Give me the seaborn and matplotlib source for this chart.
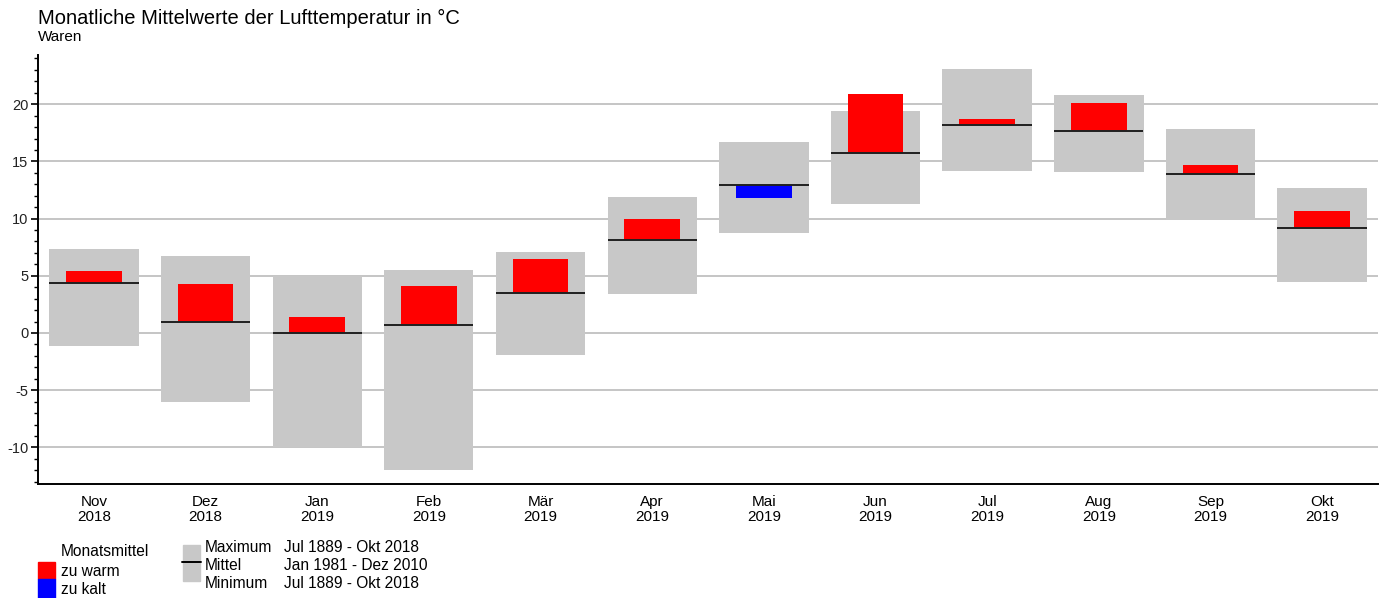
import numpy as np
import pandas as pd
import matplotlib
matplotlib.use("Agg")
import matplotlib.pyplot as plt
from matplotlib.patches import Rectangle
from matplotlib.lines import Line2D
from matplotlib.ticker import MultipleLocator
import seaborn as sns

# Monthly air temperature, station Waren
months = ["Nov\n2018", "Dez\n2018", "Jan\n2019", "Feb\n2019", "Mär\n2019", "Apr\n2019",
          "Mai\n2019", "Jun\n2019", "Jul\n2019", "Aug\n2019", "Sep\n2019", "Okt\n2019"]
monthly_mean = [5.4, 4.3, 1.4, 4.1, 6.45, 10.0, 11.8, 20.9, 18.7, 20.1, 14.7, 10.7]
ref_mean = [4.4, 0.95, 0.0, 0.7, 3.5, 8.1, 12.9, 15.7, 18.2, 17.7, 13.9, 9.2]
record_max = [7.35, 6.7, 4.95, 5.5, 7.1, 11.9, 16.7, 19.4, 23.1, 20.8, 17.8, 12.7]
record_min = [-1.1, -6.0, -10.0, -12.0, -1.9, 3.4, 8.75, 11.3, 14.2, 14.1, 9.85, 4.5]

sns.set_theme(style="white")
plt.rcParams["font.family"] = ["Liberation Sans", "DejaVu Sans"]
plt.rcParams["axes.unicode_minus"] = False
plt.rcParams["text.color"] = "black"
plt.rcParams["xtick.color"] = "black"
plt.rcParams["ytick.color"] = "black"
plt.rcParams["xtick.labelcolor"] = "black"
plt.rcParams["ytick.labelcolor"] = "#222222"

df = pd.DataFrame({
    "month": months,
    "mean": monthly_mean,
    "ref": ref_mean,
    "vmax": record_max,
    "vmin": record_min,
})
df["range"] = df["vmax"] - df["vmin"]
df["anom"] = df["mean"] - df["ref"]

GREY = "#c8c8c8"
RED = "#ff0000"
BLUE = "#0000ff"

fig = plt.figure(figsize=(13.84, 5.98), dpi=100)
ax = fig.add_axes([38 / 1384, 1 - 484 / 598, 1340 / 1384, 429 / 598])

# horizontal grid at the labelled ticks
for v in range(-10, 25, 5):
    ax.axhline(v, color="#c0c0c0", lw=1.3, zorder=0)

# record range (minimum to maximum)
sns.barplot(data=df, x="month", y="range", bottom=df["vmin"], color=GREY,
            width=0.8, saturation=1, edgecolor="none", linewidth=0, ax=ax, zorder=1)

# anomaly of the monthly mean against the reference mean
sns.barplot(data=df, x="month", y="anom", bottom=df["ref"], color=RED,
            width=0.5, saturation=1, edgecolor="none", linewidth=0, ax=ax, zorder=2)
for bar, a in zip(ax.containers[-1], df["anom"]):
    bar.set_facecolor(RED if a >= 0 else BLUE)

# reference mean 1981-2010
xs = np.arange(len(months))
ax.hlines(df["ref"], xs - 0.4, xs + 0.4, color="#202020", lw=1.4, zorder=3)

ax.set_xlim(-0.5, len(months) - 0.5)
ax.set_ylim(-13.2, 24.3)
ax.yaxis.set_major_locator(MultipleLocator(5))
ax.yaxis.set_minor_locator(MultipleLocator(1))
ax.set_xlabel("")
ax.set_ylabel("")
for s in ["top", "right"]:
    ax.spines[s].set_visible(False)
for s in ["left", "bottom"]:
    ax.spines[s].set_color("black")
    ax.spines[s].set_linewidth(1.4)
ax.tick_params(axis="y", which="major", left=True, length=5, width=1.2,
               color="black", labelsize=10.5, pad=2)
ax.tick_params(axis="y", which="minor", left=True, length=3, width=1.0, color="black")
ax.tick_params(axis="x", bottom=False, labelsize=11, pad=2)
for t in ax.get_xticklabels():
    t.set_linespacing(1.05)

fig.text(38 / 1384, 1 - 18 / 598, "Monatliche Mittelwerte der Lufttemperatur in °C",
         fontsize=14.5, va="center", ha="left")
fig.text(38 / 1384, 1 - 37 / 598, "Waren", fontsize=11, va="center", ha="left")

# legend
def px(x, y):
    return x / 1384, 1 - y / 598

fig.patches.append(Rectangle(px(38, 579), 17 / 1384, 17 / 598, transform=fig.transFigure,
                             color=RED, figure=fig))
fig.patches.append(Rectangle(px(38, 598), 17 / 1384, 19 / 598, transform=fig.transFigure,
                             color=BLUE, figure=fig))
fig.patches.append(Rectangle(px(183, 581), 17 / 1384, 36 / 598, transform=fig.transFigure,
                             color=GREY, figure=fig))
fig.lines.append(Line2D([182 / 1384, 201 / 1384], [1 - 562 / 598, 1 - 562 / 598],
                        transform=fig.transFigure, color="black", lw=1.4, figure=fig))

leg_fs = 11.2
fig.text(*px(61, 552), "Monatsmittel", fontsize=leg_fs, va="center")
fig.text(*px(61, 572), "zu warm", fontsize=leg_fs, va="center")
fig.text(*px(61, 589), "zu kalt", fontsize=leg_fs, va="center")
fig.text(*px(205, 547), "Maximum", fontsize=leg_fs, va="center")
fig.text(*px(205, 565), "Mittel", fontsize=leg_fs, va="center")
fig.text(*px(205, 583), "Minimum", fontsize=leg_fs, va="center")
fig.text(*px(284, 547), "Jul 1889 - Okt 2018", fontsize=leg_fs, va="center")
fig.text(*px(284, 565), "Jan 1981 - Dez 2010", fontsize=leg_fs, va="center")
fig.text(*px(284, 583), "Jul 1889 - Okt 2018", fontsize=leg_fs, va="center")

fig.savefig("out.png", dpi=100)
